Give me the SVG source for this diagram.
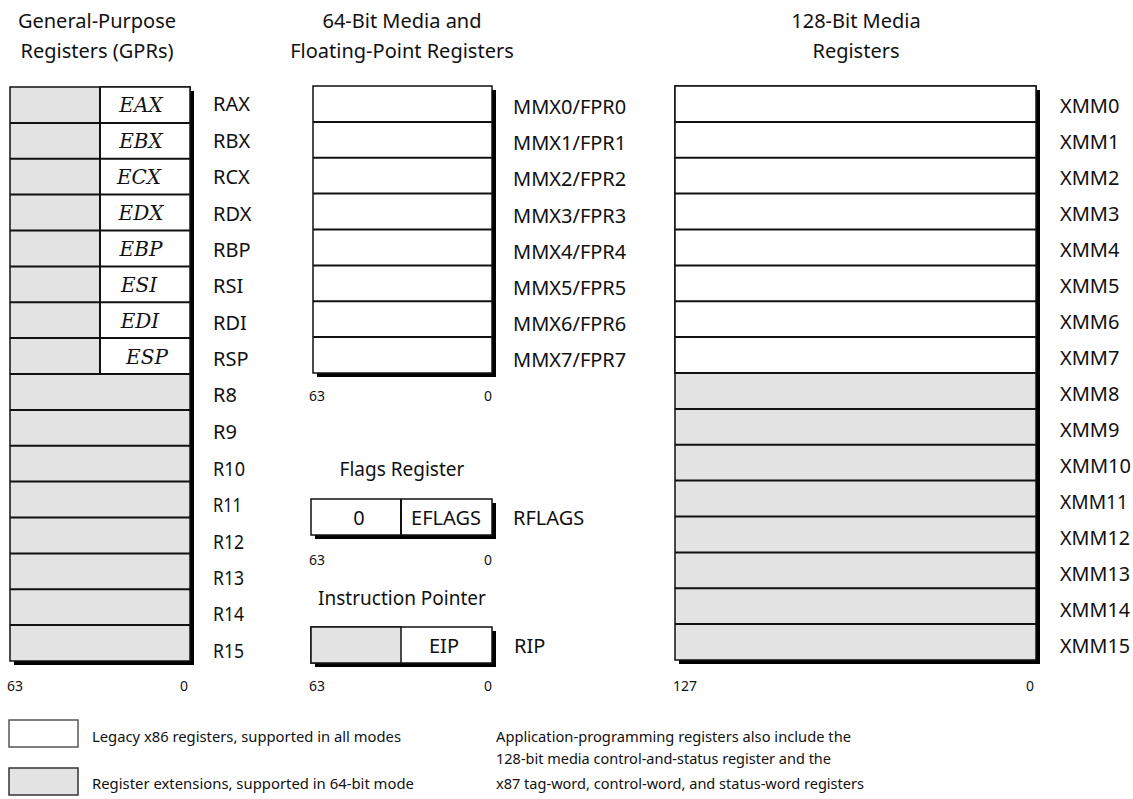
<svg xmlns="http://www.w3.org/2000/svg" width="1133" height="799" viewBox="0 0 1133 799">
<style>
text{font-family:"Noto Sans","Open Sans",sans-serif;fill:#111}
.h{font-size:20px;text-anchor:middle}
.h2{font-size:19px;text-anchor:middle}
.lab{font-size:20px}
.bit{font-size:14px}
.sh{fill:#000}
.w{fill:#fff;stroke:#111;stroke-width:1.5}
.g{fill:#e3e3e3;stroke:#111;stroke-width:1.5}
.sep{stroke:#111;stroke-width:2}
.hw{font-family:"DejaVu Serif",serif;font-size:20px;text-anchor:middle;font-style:italic}
.leg{font-size:15px}
</style>
<rect width="1133" height="799" fill="#fff"/>
<g id="headers">
<text class="h" x="97" y="28">General-Purpose</text>
<text class="h" x="97" y="58">Registers (GPRs)</text>
<text class="h" x="402" y="28">64-Bit Media and</text>
<text class="h" x="402" y="58">Floating-Point Registers</text>
<text class="h" x="856" y="28">128-Bit Media</text>
<text class="h" x="856" y="58">Registers</text>
</g>
<g id="gpr">
<rect class="sh" x="14" y="91" width="180" height="574"/>
<rect class="g" x="10" y="87" width="180" height="574"/>
<rect class="w" x="100" y="87" width="90" height="287"/>
<line class="sep" x1="100" y1="87" x2="100" y2="374"/>
<g class="sep">
<line x1="10" y1="122.9" x2="190" y2="122.9"/><line x1="10" y1="158.8" x2="190" y2="158.8"/>
<line x1="10" y1="194.6" x2="190" y2="194.6"/><line x1="10" y1="230.5" x2="190" y2="230.5"/>
<line x1="10" y1="266.4" x2="190" y2="266.4"/><line x1="10" y1="302.3" x2="190" y2="302.3"/>
<line x1="10" y1="338.1" x2="190" y2="338.1"/><line x1="10" y1="374" x2="190" y2="374"/>
<line x1="10" y1="409.9" x2="190" y2="409.9"/><line x1="10" y1="445.8" x2="190" y2="445.8"/>
<line x1="10" y1="481.6" x2="190" y2="481.6"/><line x1="10" y1="517.5" x2="190" y2="517.5"/>
<line x1="10" y1="553.4" x2="190" y2="553.4"/><line x1="10" y1="589.3" x2="190" y2="589.3"/>
<line x1="10" y1="625.1" x2="190" y2="625.1"/>
</g>
<text class="hw" x="141" y="112">EAX</text>
<text class="hw" x="141" y="148">EBX</text>
<text class="hw" x="139" y="184">ECX</text>
<text class="hw" x="141" y="220">EDX</text>
<text class="hw" x="141" y="256">EBP</text>
<text class="hw" x="139" y="292">ESI</text>
<text class="hw" x="140" y="328">EDI</text>
<text class="hw" x="147" y="364">ESP</text>
<text class="lab" x="213" y="111">RAX</text>
<text class="lab" x="213" y="147.5">RBX</text>
<text class="lab" x="213" y="184">RCX</text>
<text class="lab" x="213" y="220.5">RDX</text>
<text class="lab" x="213" y="257">RBP</text>
<text class="lab" x="213" y="293">RSI</text>
<text class="lab" x="213" y="329.5">RDI</text>
<text class="lab" x="213" y="366">RSP</text>
<text class="lab" x="213" y="402">R8</text>
<text class="lab" x="213" y="439">R9</text>
<text class="lab" x="213" y="475.5" textLength="32" lengthAdjust="spacingAndGlyphs">R10</text>
<text class="lab" x="213" y="512" textLength="29" lengthAdjust="spacingAndGlyphs">R11</text>
<text class="lab" x="213" y="548.5" textLength="31" lengthAdjust="spacingAndGlyphs">R12</text>
<text class="lab" x="213" y="585" textLength="31" lengthAdjust="spacingAndGlyphs">R13</text>
<text class="lab" x="213" y="621" textLength="31" lengthAdjust="spacingAndGlyphs">R14</text>
<text class="lab" x="213" y="657.5" textLength="31" lengthAdjust="spacingAndGlyphs">R15</text>
<text class="bit" x="7" y="691">63</text>
<text class="bit" x="180" y="691">0</text>
</g>
<g id="mmx">
<rect class="sh" x="317" y="90" width="179" height="287"/>
<rect class="w" x="313" y="86" width="179" height="287"/>
<g class="sep">
<line x1="313" y1="121.9" x2="492" y2="121.9"/><line x1="313" y1="157.8" x2="492" y2="157.8"/>
<line x1="313" y1="193.6" x2="492" y2="193.6"/><line x1="313" y1="229.5" x2="492" y2="229.5"/>
<line x1="313" y1="265.4" x2="492" y2="265.4"/><line x1="313" y1="301.3" x2="492" y2="301.3"/>
<line x1="313" y1="337.1" x2="492" y2="337.1"/>
</g>
<text class="lab" x="513" y="114">MMX0/FPR0</text>
<text class="lab" x="513" y="150">MMX1/FPR1</text>
<text class="lab" x="513" y="186">MMX2/FPR2</text>
<text class="lab" x="513" y="222.5">MMX3/FPR3</text>
<text class="lab" x="513" y="258.5">MMX4/FPR4</text>
<text class="lab" x="513" y="294.5">MMX5/FPR5</text>
<text class="lab" x="513" y="330.5">MMX6/FPR6</text>
<text class="lab" x="513" y="367">MMX7/FPR7</text>
<text class="bit" x="309" y="401">63</text>
<text class="bit" x="484" y="401">0</text>
</g>
<g id="flags">
<text class="h2" x="402" y="476">Flags Register</text>
<rect class="sh" x="315" y="503" width="181" height="36"/>
<rect class="w" x="311" y="499" width="181" height="36"/>
<line class="sep" x1="401" y1="499" x2="401" y2="535"/>
<text class="lab" x="359" y="525" text-anchor="middle">0</text>
<text class="lab" x="446" y="525" text-anchor="middle">EFLAGS</text>
<text class="lab" x="513" y="525">RFLAGS</text>
<text class="bit" x="309" y="565">63</text>
<text class="bit" x="484" y="565">0</text>
</g>
<g id="rip">
<text class="h2" x="402" y="605">Instruction Pointer</text>
<rect class="sh" x="315" y="631" width="181" height="36"/>
<rect class="w" x="311" y="627" width="181" height="36"/>
<rect class="g" x="311" y="627" width="90" height="36"/>
<text class="lab" x="444" y="653" text-anchor="middle">EIP</text>
<text class="lab" x="514" y="653">RIP</text>
<text class="bit" x="309" y="691">63</text>
<text class="bit" x="484" y="691">0</text>
</g>
<g id="xmm">
<rect class="sh" x="679" y="90" width="361" height="574"/>
<rect class="g" x="675" y="86" width="361" height="574"/>
<rect class="w" x="675" y="86" width="361" height="287"/>
<g class="sep">
<line x1="675" y1="121.9" x2="1036" y2="121.9"/><line x1="675" y1="157.8" x2="1036" y2="157.8"/>
<line x1="675" y1="193.6" x2="1036" y2="193.6"/><line x1="675" y1="229.5" x2="1036" y2="229.5"/>
<line x1="675" y1="265.4" x2="1036" y2="265.4"/><line x1="675" y1="301.3" x2="1036" y2="301.3"/>
<line x1="675" y1="337.1" x2="1036" y2="337.1"/><line x1="675" y1="373" x2="1036" y2="373"/>
<line x1="675" y1="408.9" x2="1036" y2="408.9"/><line x1="675" y1="444.8" x2="1036" y2="444.8"/>
<line x1="675" y1="480.6" x2="1036" y2="480.6"/><line x1="675" y1="516.5" x2="1036" y2="516.5"/>
<line x1="675" y1="552.4" x2="1036" y2="552.4"/><line x1="675" y1="588.3" x2="1036" y2="588.3"/>
<line x1="675" y1="624.1" x2="1036" y2="624.1"/>
</g>
<text class="lab" x="1060" y="113">XMM0</text>
<text class="lab" x="1060" y="149">XMM1</text>
<text class="lab" x="1060" y="185">XMM2</text>
<text class="lab" x="1060" y="221">XMM3</text>
<text class="lab" x="1060" y="257">XMM4</text>
<text class="lab" x="1060" y="293">XMM5</text>
<text class="lab" x="1060" y="329">XMM6</text>
<text class="lab" x="1060" y="365">XMM7</text>
<text class="lab" x="1060" y="401">XMM8</text>
<text class="lab" x="1060" y="437">XMM9</text>
<text class="lab" x="1060" y="473" textLength="71" lengthAdjust="spacingAndGlyphs">XMM10</text>
<text class="lab" x="1060" y="509" textLength="68" lengthAdjust="spacingAndGlyphs">XMM11</text>
<text class="lab" x="1060" y="545" textLength="70" lengthAdjust="spacingAndGlyphs">XMM12</text>
<text class="lab" x="1060" y="581" textLength="70" lengthAdjust="spacingAndGlyphs">XMM13</text>
<text class="lab" x="1060" y="617" textLength="70" lengthAdjust="spacingAndGlyphs">XMM14</text>
<text class="lab" x="1060" y="653" textLength="70" lengthAdjust="spacingAndGlyphs">XMM15</text>
<text class="bit" x="673" y="691">127</text>
<text class="bit" x="1026" y="691">0</text>
</g>
<g id="legend">
<rect x="9" y="720" width="69" height="27" fill="#fff" stroke="#555" stroke-width="1.5"/>
<rect x="9" y="768" width="69" height="27" fill="#e3e3e3" stroke="#333" stroke-width="1.5"/>
<text class="leg" x="92" y="742" textLength="309" lengthAdjust="spacingAndGlyphs">Legacy x86 registers, supported in all modes</text>
<text class="leg" x="92" y="789" textLength="322" lengthAdjust="spacingAndGlyphs">Register extensions, supported in 64-bit mode</text>
</g>
<g id="note">
<text class="leg" x="496" y="742" textLength="355" lengthAdjust="spacingAndGlyphs">Application-programming registers also include the</text>
<text class="leg" x="496" y="764" textLength="335" lengthAdjust="spacingAndGlyphs">128-bit media control-and-status register and the</text>
<text class="leg" x="496" y="789" textLength="368" lengthAdjust="spacingAndGlyphs">x87 tag-word, control-word, and status-word registers</text>
</g>
<g id="connectors"/>
</svg>
